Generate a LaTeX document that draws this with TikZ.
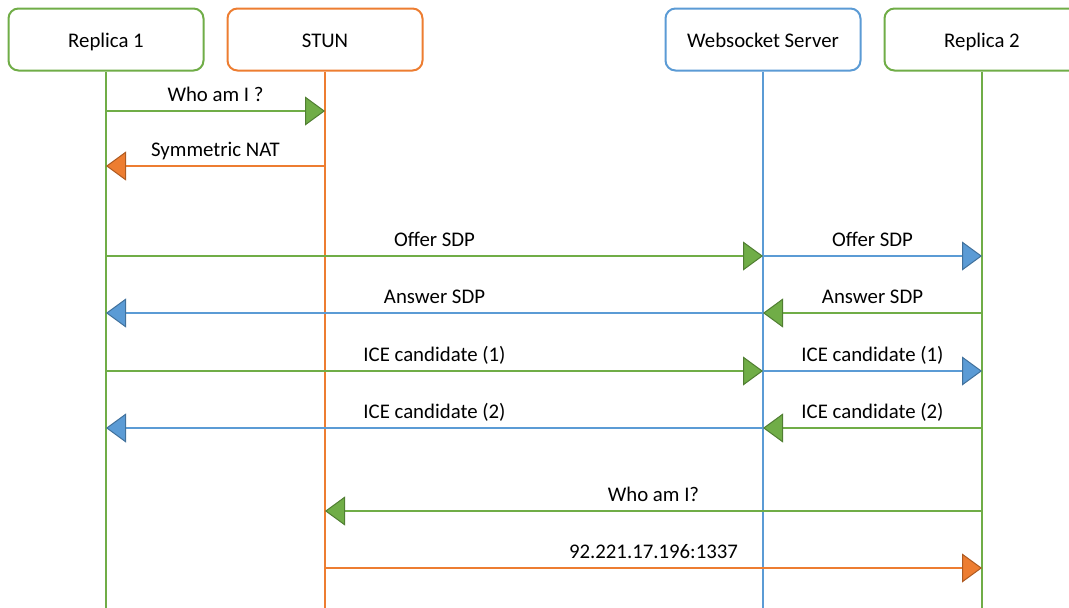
\documentclass[tikz,border=0pt]{standalone}
\usepackage{fontspec}
\setmainfont{Carlito}
\usetikzlibrary{arrows.meta}
\definecolor{cg}{HTML}{70AD47}
\definecolor{cgd}{HTML}{507E32}
\definecolor{co}{HTML}{ED7D31}
\definecolor{cod}{HTML}{AE5A21}
\definecolor{cb}{HTML}{5B9BD5}
\definecolor{cbd}{HTML}{41719C}
\begin{document}
\begin{tikzpicture}[x=1pt,y=-1pt,
  actor/.style={draw, rounded corners=10pt, line width=2pt, minimum width=195pt, minimum height=62pt, inner sep=0pt, text height=15pt, text depth=0pt, font=\fontsize{20.8}{24}\selectfont, fill=white, text=black},
  life/.style={line width=2pt},
  msg/.style={line width=1.8pt},
  lbl/.style={font=\fontsize{20.8}{24}\selectfont, anchor=base, inner sep=0pt, text=black, yshift=9.5pt},
  gtip/.style={-{Triangle[length=20pt,width=29pt,fill=cg,color=cgd,line width=1pt]}},
  otip/.style={-{Triangle[length=20pt,width=29pt,fill=co,color=cod,line width=1pt]}},
  btip/.style={-{Triangle[length=20pt,width=29pt,fill=cb,color=cbd,line width=1pt]}}
]
\useasboundingbox (0,0) rectangle (1069,608);
\clip (0,0) rectangle (1069,608);
\fill[white] (0,0) rectangle (1069,608);

\node[actor, draw=cg] (r1) at (106,39.5) {Replica 1};
\node[actor, draw=co] (stun) at (325,39.5) {STUN};
\node[actor, draw=cb] (ws) at (763,39.5) {Websocket Server};
\node[actor, draw=cg] (r2) at (982,39.5) {Replica 2};

\coordinate (bot) at (0,610);
\draw[life,cg] (r1.south) -- (r1.south |- bot);
\draw[life,co] (stun.south) -- (stun.south |- bot);
\draw[life,cb] (ws.south) -- (ws.south |- bot);
\draw[life,cg] (r2.south) -- (r2.south |- bot);

\coordinate (m1) at (0,111);
\coordinate (m2) at (0,166);
\coordinate (m3) at (0,256);
\coordinate (m4) at (0,313);
\coordinate (m5) at (0,371);
\coordinate (m6) at (0,428);
\coordinate (m7) at (0,511);
\coordinate (m8) at (0,568);

\draw[msg,cg,gtip] (r1 |- m1) -- node[lbl]{Who am I ?} (stun |- m1);
\draw[msg,co,otip] (stun |- m2) -- node[lbl]{Symmetric NAT} (r1 |- m2);

\draw[msg,cg,gtip] (r1 |- m3) -- node[lbl]{Offer SDP} (ws |- m3);
\draw[msg,cb,btip] (ws |- m3) -- node[lbl]{Offer SDP} (r2 |- m3);

\draw[msg,cb,btip] (ws |- m4) -- node[lbl]{Answer SDP} (r1 |- m4);
\draw[msg,cg,gtip] (r2 |- m4) -- node[lbl]{Answer SDP} (ws |- m4);

\draw[msg,cg,gtip] (r1 |- m5) -- node[lbl]{ICE candidate (1)} (ws |- m5);
\draw[msg,cb,btip] (ws |- m5) -- node[lbl]{ICE candidate (1)} (r2 |- m5);

\draw[msg,cb,btip] (ws |- m6) -- node[lbl]{ICE candidate (2)} (r1 |- m6);
\draw[msg,cg,gtip] (r2 |- m6) -- node[lbl]{ICE candidate (2)} (ws |- m6);

\draw[msg,cg,gtip] (r2 |- m7) -- node[lbl]{Who am I?} (stun |- m7);
\draw[msg,co,otip] (stun |- m8) -- node[lbl]{92.221.17.196:1337} (r2 |- m8);
\end{tikzpicture}
\end{document}
